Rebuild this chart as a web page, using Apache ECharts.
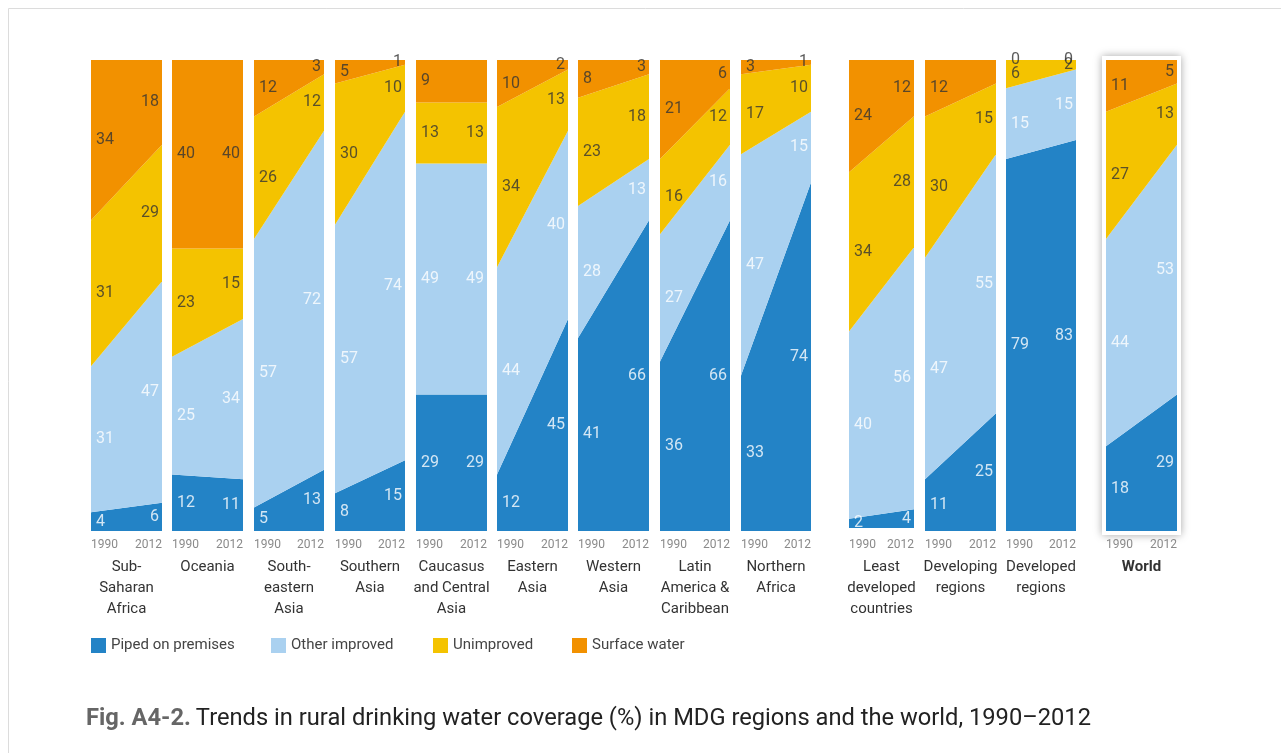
<!DOCTYPE html>
<html><head><meta charset="utf-8">
<script src="https://cdn.jsdelivr.net/npm/echarts@6/dist/echarts.min.js"></script>
<style>html,body{margin:0;padding:0;background:#fff}#c{width:1281px;height:753px}</style>
</head><body><div id="c"></div>
<script>
const regions = ['Sub-\nSaharan\nAfrica','Oceania','South-\neastern\nAsia','Southern\nAsia','Caucasus\nand Central\nAsia','Eastern\nAsia','Western\nAsia','Latin\nAmerica &\nCaribbean','Northern\nAfrica','Least\ndeveloped\ncountries','Developing\nregions','Developed\nregions','World'];
const years = ['1990', '2012'];
const seriesNames = ['Piped on premises', 'Other improved', 'Unimproved', 'Surface water'];
const piped1990 = [4, 12, 5, 8, 29, 12, 41, 36, 33, 2, 11, 79, 18];
const piped2012 = [6, 11, 13, 15, 29, 45, 66, 66, 74, 4, 25, 83, 29];
const other1990 = [31, 25, 57, 57, 49, 44, 28, 27, 47, 40, 47, 15, 44];
const other2012 = [47, 34, 72, 74, 49, 40, 13, 16, 15, 56, 55, 15, 53];
const unimp1990 = [31, 23, 26, 30, 13, 34, 23, 16, 17, 34, 30, 6, 27];
const unimp2012 = [29, 15, 12, 10, 13, 13, 18, 12, 10, 28, 15, 2, 13];
const surf1990 = [34, 40, 12, 5, 9, 10, 8, 21, 3, 24, 12, 0, 11];
const surf2012 = [18, 40, 3, 1, 9, 2, 3, 6, 1, 12, 5, 0, 5];
// labels not printed in the original (region index, year index, layer index)
const hiddenLabels = [[4, 1, 3], [10, 1, 3]];

const colors = ['#2383C6', '#AAD1F0', '#F4C300', '#F29100'];
const labelColors = ['#ffffff', '#ffffff', '#333333', '#333333'];
const layers = [[piped1990, piped2012], [other1990, other2012], [unimp1990, unimp2012], [surf1990, surf2012]];

// layout
const lefts = [91, 172, 254, 335, 416, 497, 578, 660, 741, 849, 925, 1006, 1106];
const widths = [71, 71, 70, 70, 71, 71, 71, 70, 70, 65, 71, 70, 71];
const heights = [471, 471, 471, 471, 471, 471, 471, 471, 471, 468, 471, 471, 471];
const legendLefts = [91, 271, 433, 572];
const TOP = 60;
const FONT = 'Roboto, "Noto Sans", sans-serif';

const grid = [], xAxis = [], yAxis = [], series = [];
regions.forEach((r, i) => {
  const extra = 471 - heights[i];
  grid.push({ left: lefts[i], top: TOP, width: widths[i], height: heights[i] });
  xAxis.push({
    type: 'category', gridIndex: i, data: years, boundaryGap: false,
    axisLine: { show: false }, axisTick: { show: false },
    axisLabel: { color: '#8a8a8a', fontSize: 12, fontFamily: FONT, margin: 8 + extra,
      alignMinLabel: 'left', alignMaxLabel: 'right' },
    name: r, nameLocation: 'middle', nameGap: 26 + extra,
    nameTextStyle: { color: '#333', fontSize: 15, fontFamily: FONT, lineHeight: 21,
      verticalAlign: 'top', fontWeight: r === 'World' ? 'bold' : 'normal' }
  });
  yAxis.push({ type: 'value', gridIndex: i, min: 0, max: 100, show: false });
  layers.forEach((L, k) => {
    series.push({
      type: 'line', name: seriesNames[k], xAxisIndex: i, yAxisIndex: i,
      stack: 'g' + i, symbol: 'none', smooth: false,
      lineStyle: { width: 0 }, itemStyle: { color: colors[k] },
      areaStyle: { color: colors[k], opacity: 1 },
      data: [L[0][i], L[1][i]], z: 2
    });
  });
  const pts = [];
  for (let y = 0; y < 2; y++) {
    let cum = 0;
    layers.forEach((L, k) => {
      const v = L[y][i];
      const mid = cum + v / 2;
      cum += v;
      const hidden = hiddenLabels.some(h => h[0] === i && h[1] === y && h[2] === k);
      pts.push({
        value: [y, mid, v],
        label: {
          show: !hidden, position: y === 0 ? 'right' : 'left', distance: y === 0 ? 5 : 3,
          color: labelColors[k], fontSize: 16, fontFamily: FONT,
          formatter: p => String(p.value[2])
        }
      });
    });
  }
  series.push({
    type: 'scatter', xAxisIndex: i, yAxisIndex: i, symbolSize: 0, silent: true,
    data: pts, z: 5
  });
});

const legend = seriesNames.map((n, k) => ({
  left: legendLefts[k], top: 638, padding: 0, icon: 'rect', itemWidth: 15, itemHeight: 15,
  itemGap: 8, data: [n], selectedMode: false,
  textStyle: { color: '#444', fontSize: 15, fontFamily: FONT }
}));

const chart = echarts.init(document.getElementById('c'), null, { renderer: 'canvas' });
chart.setOption({
  animation: false,
  backgroundColor: '#ffffff',
  grid, xAxis, yAxis, series, legend,
  title: {
    left: 86, top: 707, padding: 0,
    text: '{b|Fig. A4-2.} {n|Trends in rural drinking water coverage (%) in MDG regions and the world, 1990–2012}',
    textStyle: {
      rich: {
        b: { fontSize: 23.7, fontWeight: 'bold', color: '#666', fontFamily: FONT },
        n: { fontSize: 23.7, fontWeight: 'normal', color: '#222', fontFamily: FONT }
      }
    }
  },
  graphic: [
    { type: 'rect', z: -10, shape: { x: 8.5, y: 8.5, width: 1400, height: 1000 },
      style: { fill: 'none', stroke: '#dcdcdc', lineWidth: 1 } },
    { type: 'rect', z: 0, shape: { x: 1102, y: 56, width: 79, height: 479 },
      style: { fill: '#fff', shadowBlur: 8, shadowColor: 'rgba(0,0,0,0.35)' } }
  ]
});
</script></body></html>
